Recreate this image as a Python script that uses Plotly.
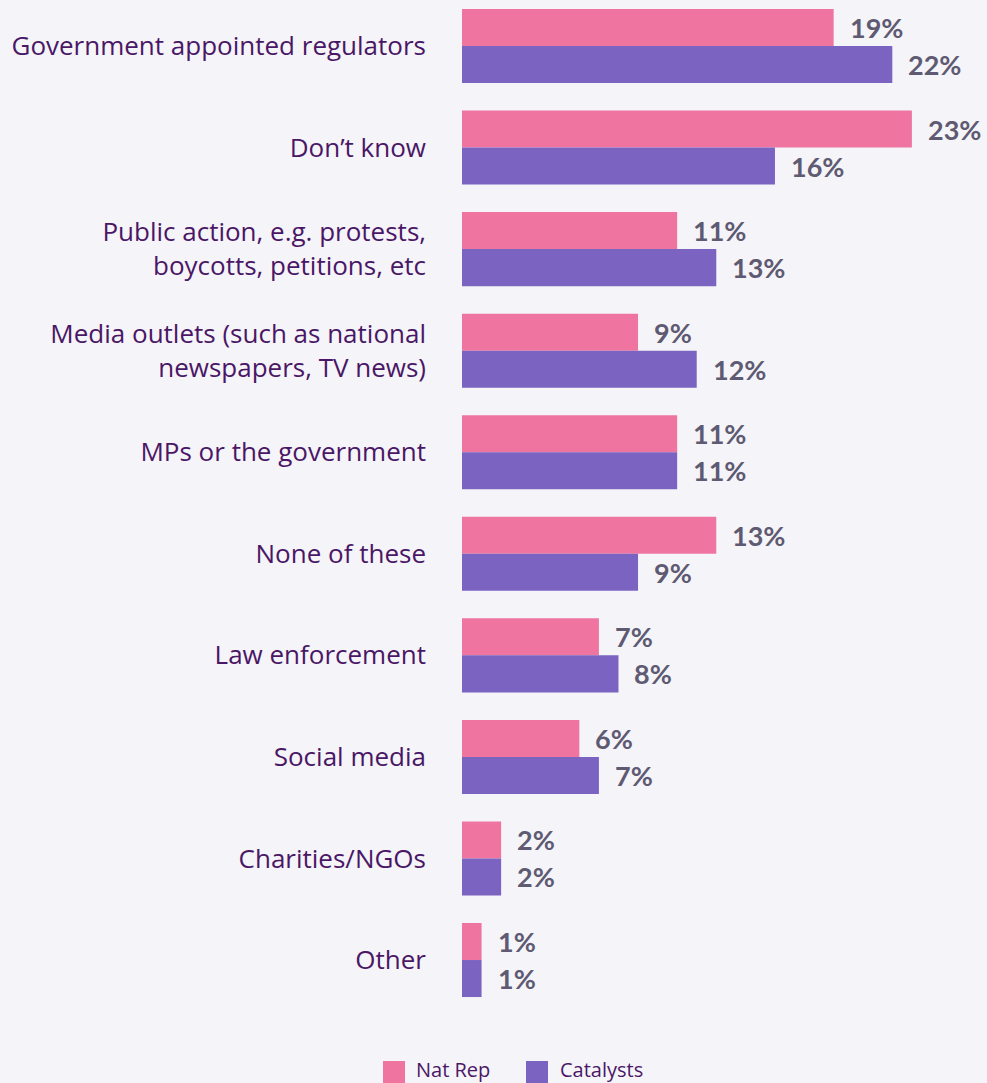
import plotly.graph_objects as go

# Survey responses: who should hold organisations to account
categories = [
    "Government appointed regulators",
    "Don\u2019t know",
    "Public action, e.g. protests,<br>boycotts, petitions, etc",
    "Media outlets (such as national<br>newspapers, TV news)",
    "MPs or the government",
    "None of these",
    "Law enforcement",
    "Social media",
    "Charities/NGOs",
    "Other",
]
nat_rep = [19, 23, 11, 9, 11, 13, 7, 6, 2, 1]
catalysts = [22, 16, 13, 12, 11, 9, 8, 7, 2, 1]
series_names = ["Nat Rep", "Catalysts"]

PINK = "#F074A0"
PURPLE = "#7B63C2"
LABEL_COLOR = "#4A1766"
VALUE_COLOR = "#5E5A72"
BG = "#F5F4F9"
LABEL_FONT = "Open Sans"
VALUE_FONT = "Lato"

pos = list(range(len(categories)))

fig = go.Figure()
fig.add_trace(go.Bar(y=pos, x=nat_rep, orientation="h", name=series_names[0],
                     marker=dict(color=PINK, line=dict(width=0)), showlegend=False))
fig.add_trace(go.Bar(y=pos, x=catalysts, orientation="h", name=series_names[1],
                     marker=dict(color=PURPLE, line=dict(width=0)), showlegend=False))

annotations = []
half = (1 - 0.271) / 4
for i, (a, b) in enumerate(zip(nat_rep, catalysts)):
    for v, off in ((a, -half), (b, half)):
        annotations.append(dict(
            x=v, y=i + off, xref="x", yref="y", text=f"{v}%",
            showarrow=False, xanchor="left", yanchor="middle", xshift=14,
            font=dict(family=VALUE_FONT, size=27, color=VALUE_COLOR, weight="bold"),
        ))

# Legend drawn as swatches plus labels below the plot
shapes = []
legend_items = [(series_names[0], PINK, 383, 414), (series_names[1], PURPLE, 526, 558)]
W, H = 987, 1083
for name, color, sx, tx in legend_items:
    shapes.append(dict(type="rect", xref="paper", yref="paper",
                       x0=(sx - 462) / (W - 462), x1=(sx + 22 - 462) / (W - 462),
                       y0=(1023 - 1061) / (1023), y1=(1023 - 1086) / 1023,
                       fillcolor=color, line=dict(width=0), layer="above"))
    annotations.append(dict(x=(tx - 462) / (W - 462), y=(1023 - 1069) / 1023,
                            xref="paper", yref="paper", text=name, showarrow=False,
                            xanchor="left", yanchor="middle",
                            font=dict(family=LABEL_FONT, size=20, color=LABEL_COLOR)))

fig.update_layout(
    width=W, height=H,
    margin=dict(l=462, r=0, t=0, b=60),
    paper_bgcolor=BG, plot_bgcolor=BG,
    barmode="group", bargap=0.271, bargroupgap=0,
    showlegend=False,
    annotations=annotations, shapes=shapes,
    xaxis=dict(range=[0, 525 / 19.56], visible=False, fixedrange=True),
    yaxis=dict(range=[9.62, -0.453], tickmode="array", tickvals=pos, ticktext=categories,
               showgrid=False, zeroline=False, showline=False, ticks="",
               ticklabelstandoff=35,
               tickfont=dict(family=LABEL_FONT, size=26, color=LABEL_COLOR)),
)

fig.write_html("out.html")
